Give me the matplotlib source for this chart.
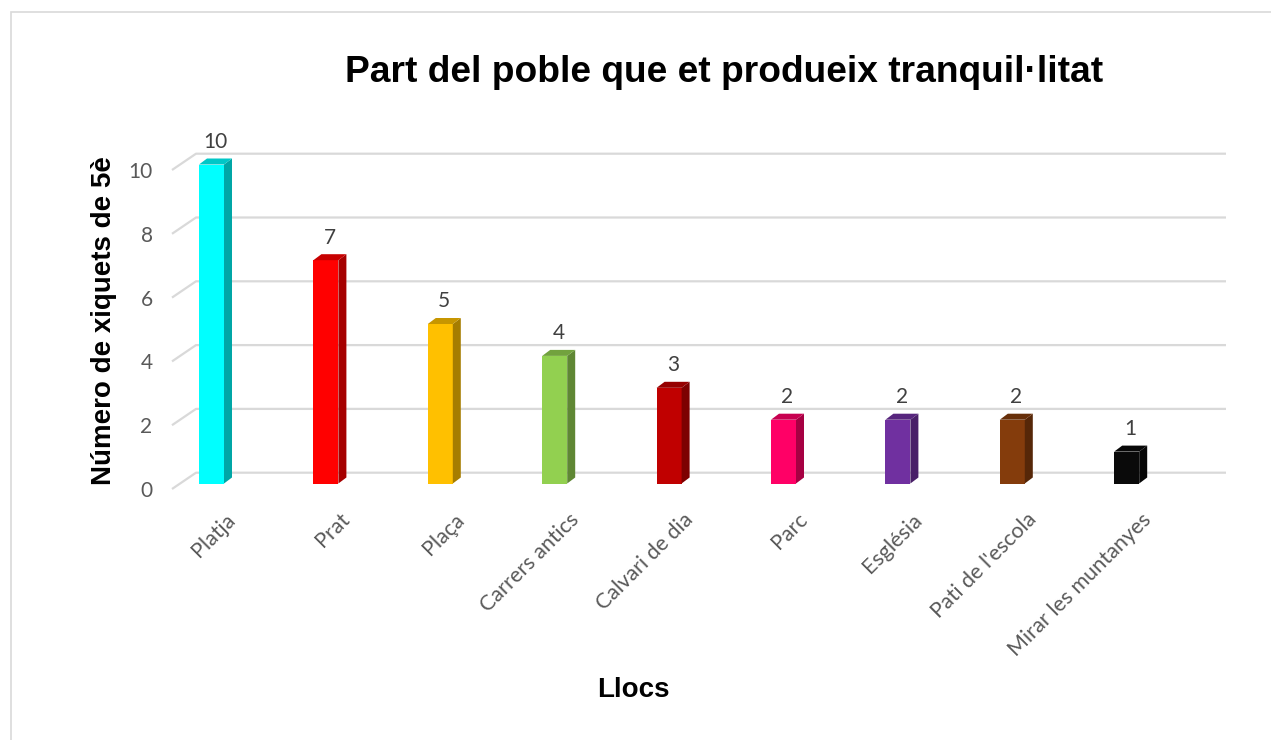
import matplotlib
matplotlib.use("Agg")
import matplotlib.pyplot as plt
from matplotlib.patches import Polygon, Rectangle
import matplotlib.colors as mcolors
import numpy as np

categories = ["Platja", "Prat", "Plaça", "Carrers antics", "Calvari de dia",
              "Parc", "Església", "Pati de l'escola", "Mirar les muntanyes"]
values = [10, 7, 5, 4, 3, 2, 2, 2, 1]
colors = ["#00FFFF", "#FF0000", "#FFC000", "#92D050", "#C00000",
          "#FF0066", "#7030A0", "#843C0C", "#0A0A0A"]
yticks = [0, 2, 4, 6, 8, 10]
title = "Part del poble que et produeix tranquil·litat"
xlabel = "Llocs"
ylabel = "Número de xiquets de 5è"

W, H = 1271, 740
fig = plt.figure(figsize=(W / 100, H / 100), dpi=100)

# pixel geometry
px_per_x = 114.4
px_per_y = 31.9
x0_px = 211.5      # centre of first bar
y0_px = 483.5      # bar base
ax_l, ax_r, ax_t, ax_b = 172, 1226, 130, 500
ax = fig.add_axes([ax_l / W, 1 - ax_b / H, (ax_r - ax_l) / W, (ax_b - ax_t) / H])
ax.set_xlim((ax_l - x0_px) / px_per_x, (ax_r - x0_px) / px_per_x)
ax.set_ylim((y0_px - ax_b) / px_per_y, (y0_px - ax_t) / px_per_y)
for s in ax.spines.values():
    s.set_visible(False)
ax.patch.set_alpha(0)

front_off = -5.5 / px_per_y
back_off = 10.8 / px_per_y
back_x = (196 - x0_px) / px_per_x
xl, xr = ax.get_xlim()
grid_c = "#D9D9D9"
for v in yticks:
    ax.plot([xl, back_x, xr], [v + front_off, v + back_off, v + back_off],
            color=grid_c, lw=1.6, zorder=1, solid_capstyle="butt", clip_on=False)

x = np.arange(len(categories))
bw = 25 / px_per_x
dx = 8 / px_per_x
dy = 6 / px_per_y
bars = ax.bar(x, values, width=bw, color=colors, zorder=3)


def shade(c, f):
    r, g, b = mcolors.to_rgb(c)
    return (r * f, g * f, b * f)


for rect, c, v in zip(bars, colors, values):
    xa = rect.get_x()
    xb = xa + rect.get_width()
    h = rect.get_height()
    side = Polygon([(xb, 0), (xb + dx, dy), (xb + dx, h + dy), (xb, h)],
                   closed=True, facecolor=shade(c, 0.65), edgecolor="none", zorder=3)
    top = Polygon([(xa, h), (xa + dx, h + dy), (xb + dx, h + dy), (xb, h)],
                  closed=True, facecolor=shade(c, 0.78), edgecolor="none", zorder=3)
    ax.add_patch(side)
    ax.add_patch(top)
    ax.annotate(str(v), (xa + rect.get_width() / 2 + dx / 2, h + dy),
                xytext=(0, 12), textcoords="offset points", ha="center", va="center",
                fontsize=15, family="Lato", color="#404040")

ax.set_yticks([v + front_off for v in yticks])
ax.set_yticklabels([str(v) for v in yticks], family="Lato", fontsize=15, color="#595959")
ax.tick_params(axis="y", length=0, pad=14)
ax.set_xticks([])

for xi, lab in zip(x, categories):
    ax.annotate(lab, (xi, 0), xytext=(21, -33), textcoords="offset pixels",
                rotation=45, rotation_mode="anchor", ha="right", va="center",
                fontsize=15.5, family="Lato", color="#595959", annotation_clip=False)

fig.text(724 / W, 1 - 73 / H, title, ha="center", va="center",
         family="Liberation Sans", fontweight="bold", fontsize=26.7, color="black")
fig.text(104 / W, 1 - 321 / H, ylabel, ha="center", va="center", rotation=90,
         family="Liberation Sans", fontweight="bold", fontsize=20, color="black")
fig.text(633 / W, 1 - 690 / H, xlabel, ha="center", va="center",
         family="Liberation Sans", fontweight="bold", fontsize=20, color="black")

fig.patches.append(Rectangle((10.5 / W, -0.1), 1.2, 1 - 11.5 / H + 0.1,
                             transform=fig.transFigure, fill=False,
                             edgecolor="#D9D9D9", lw=1.2))

fig.savefig("out.png", dpi=100)
